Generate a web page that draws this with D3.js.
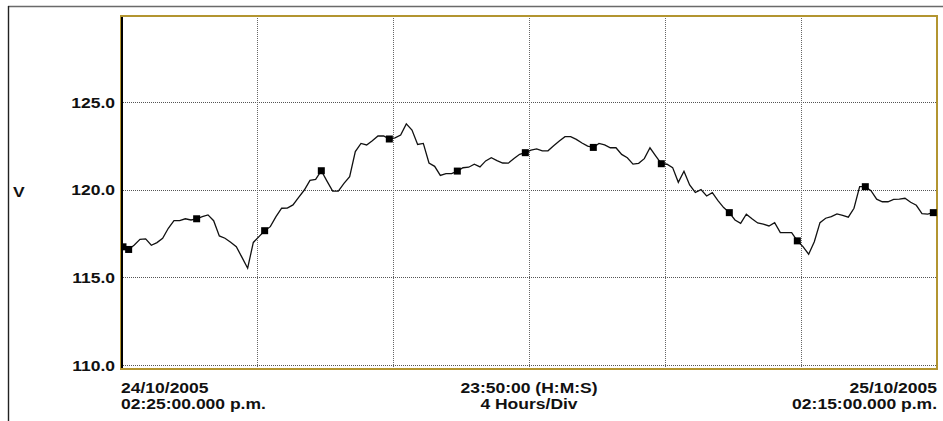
<!DOCTYPE html>
<html>
<head>
<meta charset="utf-8">
<script src="https://cdn.jsdelivr.net/npm/d3@7"></script>
<style>
  body { margin: 0; background: #fff; }
  text { font-family: "Liberation Sans", Arial, sans-serif; font-weight: bold; fill: #111; }
</style>
</head>
<body>
<div id="chart"></div>
<script>
// voltage log, one sample every 10 minutes from 24/10/2005 14:25
const sampleStartMin = 3.5;
const sampleStepMin = 10;
const volts = [
  116.74, 116.59, 116.84, 117.17, 117.19, 116.83, 116.98, 117.23, 117.80, 118.23,
  118.23, 118.34, 118.27, 118.34, 118.46, 118.56, 118.23, 117.36, 117.23, 117.00,
  116.75, 116.14, 115.52, 116.99, 117.32, 117.66, 117.89, 118.46, 118.94, 118.95,
  119.13, 119.56, 119.98, 120.53, 120.59, 121.08, 120.49, 119.92, 119.92, 120.36,
  120.74, 122.17, 122.64, 122.55, 122.79, 123.06, 123.06, 122.89, 122.96, 123.12,
  123.75, 123.40, 122.58, 122.64, 121.52, 121.33, 120.81, 120.92, 120.92, 121.06,
  121.25, 121.28, 121.45, 121.30, 121.64, 121.82, 121.66, 121.52, 121.51, 121.78,
  122.02, 122.11, 122.25, 122.33, 122.21, 122.22, 122.51, 122.78, 123.02, 123.02,
  122.87, 122.66, 122.48, 122.41, 122.64, 122.55, 122.39, 122.39, 122.01, 121.82,
  121.46, 121.50, 121.77, 122.39, 121.93, 121.48, 121.45, 121.26, 120.42, 121.05,
  120.27, 119.84, 120.00, 119.64, 119.83, 119.38, 118.98, 118.69, 118.27, 118.08,
  118.60, 118.34, 118.10, 118.04, 117.93, 118.12, 117.55, 117.55, 117.55, 117.08,
  116.75, 116.32, 117.03, 118.12, 118.37, 118.46, 118.62, 118.54, 118.43, 118.94,
  120.17, 120.17, 119.94, 119.46, 119.31, 119.31, 119.45, 119.46, 119.51, 119.28,
  119.11, 118.63, 118.60, 118.69
];
// samples drawn with a square marker
const markerIdx = [0, 1, 13, 25, 35, 47, 59, 71, 83, 95, 107, 119, 131, 143];

const yTicks = [110, 115, 120, 125];
const xGridMin = [240, 480, 720, 960, 1200];
const spanMin = 1440; // 6 divisions x 4 hours
const yLabel = "V";
const leftLabels = ["24/10/2005", "02:25:00.000 p.m."];
const midLabels = ["23:50:00 (H:M:S)", "4 Hours/Div"];
const rightLabels = ["25/10/2005", "02:15:00.000 p.m."];

(function () {
  const W = 943, H = 421;
  const margin = { top: 16, left: 121 };
  const width = 816, height = 353;
  const gold = "#b39530";

  const svg = d3.select("#chart").append("svg")
    .attr("width", W).attr("height", H);

  // outer window frame (only top/left show)
  svg.append("line").attr("x1", 8).attr("x2", W).attr("y1", 6.5).attr("y2", 6.5)
    .attr("stroke", "#6a6a6a").attr("stroke-width", 1.3);
  svg.append("line").attr("x1", 8.5).attr("x2", 8.5).attr("y1", 6).attr("y2", H)
    .attr("stroke", "#222").attr("stroke-width", 1.4);

  const x = d3.scaleLinear().domain([0, spanMin]).range([0, width]);
  const y = d3.scaleLinear().domain([110, 125]).range([349, 86]);

  const g = svg.append("g").attr("transform", `translate(${margin.left},${margin.top})`);

  g.append("clipPath").attr("id", "plot-clip")
    .append("rect").attr("x", 0).attr("y", 0).attr("width", width).attr("height", height);

  // dotted grid
  g.selectAll(".hgrid").data(yTicks).join("line")
    .attr("class", "hgrid")
    .attr("x1", 0).attr("x2", width)
    .attr("y1", (d) => Math.round(y(d)) + 0.5).attr("y2", (d) => Math.round(y(d)) + 0.5)
    .attr("stroke", "#555").attr("stroke-dasharray", "1,1");
  g.selectAll(".vgrid").data(xGridMin).join("line")
    .attr("class", "vgrid")
    .attr("x1", (d) => Math.round(x(d)) + 0.5).attr("x2", (d) => Math.round(x(d)) + 0.5)
    .attr("y1", 0).attr("y2", height)
    .attr("stroke", "#666").attr("stroke-dasharray", "1,1");

  // frame
  g.append("rect").attr("x", 0).attr("y", 0).attr("width", width).attr("height", height)
    .attr("fill", "none").attr("stroke", gold).attr("stroke-width", 2);

  const pts = volts.map((v, i) => ({ t: sampleStartMin + i * sampleStepMin, v: v }));

  const plot = g.append("g").attr("clip-path", "url(#plot-clip)");
  plot.append("path").datum(pts)
    .attr("fill", "none").attr("stroke", "#111").attr("stroke-width", 1.3)
    .attr("d", d3.line().x((d) => x(d.t)).y((d) => y(d.v)));

  plot.selectAll(".mk").data(markerIdx.map((i) => pts[i])).join("rect")
    .attr("class", "mk")
    .attr("x", (d) => x(d.t) - 3.5).attr("y", (d) => y(d.v) - 3.5)
    .attr("width", 7).attr("height", 7).attr("fill", "#000");

  // black left axis over the gold edge
  g.append("line").attr("x1", 1).attr("x2", 1).attr("y1", 1).attr("y2", height - 1)
    .attr("stroke", "#000").attr("stroke-width", 2);

  // text, slightly widened like the original font
  function label(px, py, str, anchor) {
    svg.append("g").attr("transform", `translate(${px},${py}) scale(1.13,1)`)
      .append("text").attr("text-anchor", anchor).attr("font-size", "15.5px").text(str);
  }

  yTicks.forEach((t) => label(115, margin.top + y(t) + 5.5, t.toFixed(1), "end"));
  label(13, 197, yLabel, "start");

  label(margin.left, 393, leftLabels[0], "start");
  label(margin.left, 409, leftLabels[1], "start");
  label(margin.left + width / 2, 393, midLabels[0], "middle");
  label(margin.left + width / 2, 409, midLabels[1], "middle");
  label(margin.left + width, 393, rightLabels[0], "end");
  label(margin.left + width, 409, rightLabels[1], "end");
})();
</script>
</body>
</html>
